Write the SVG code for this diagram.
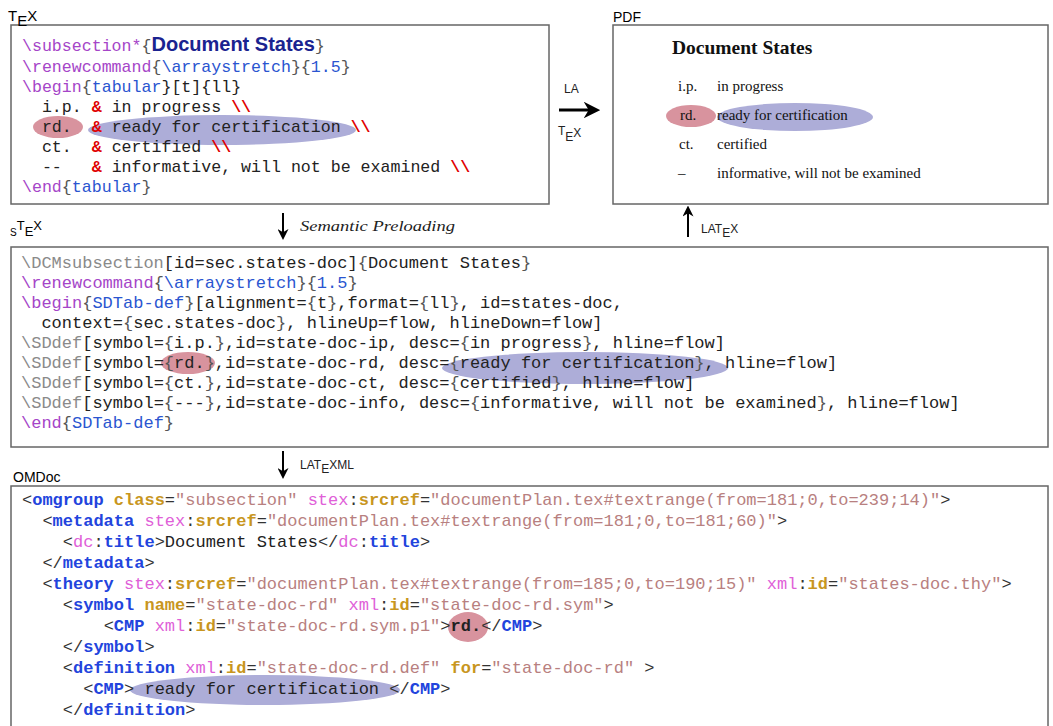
<svg xmlns="http://www.w3.org/2000/svg" width="1053" height="726" viewBox="0 0 1053 726">
<style>
.box{fill:#fff;stroke:#666;stroke-width:1.5}
.lbl{font-family:"Liberation Sans",Arial,sans-serif;fill:#000}
.hand{font-family:"Liberation Sans",Arial,sans-serif;fill:#222;font-size:12px}
.code{font-family:"Liberation Mono","Courier New",monospace;fill:#222}
.code text{white-space:pre}
.tex{font-size:16.6px}
.stx{font-size:17px}
.om{font-size:17px}
.pu{fill:#a545c8}
.bl{fill:#2a55d0}
.br{fill:#555}
.gr{fill:#8a8a8a}
.rd{fill:#e00000;font-weight:bold}
.tg{fill:#2244dd;font-weight:bold}
.at{fill:#c8961e;font-weight:bold}
.ns{fill:#e060d8}
.vl{fill:#b88080}
.pn{fill:#333}
.ered{fill:#d8939e}
.eblu{fill:#adadd8}
.pdf{font-family:"Liberation Serif","Times New Roman",serif;fill:#111;font-size:15px}
.pdfh{font-family:"Liberation Serif","Times New Roman",serif;fill:#111;font-size:19.5px;font-weight:bold}
.conn{stroke:#000;fill:none}
</style>
<defs>
<marker id="ah" viewBox="0 0 10 10" refX="5" refY="5" markerWidth="5.5" markerHeight="5.5" orient="auto">
<path d="M0,0 L10,5 L0,10 L3,5 z" fill="#000"/>
</marker>
</defs>

<g id="tex-node">
<rect class="box" x="11" y="25" width="538" height="179"/>
<text class="lbl" x="8" y="21" font-size="15">T<tspan dy="5">E</tspan><tspan dy="-5">X</tspan></text>
<ellipse class="ered" cx="58" cy="127" rx="25" ry="11"/>
<ellipse class="eblu" cx="222" cy="130" rx="134" ry="15"/>
<g class="code tex">
<text xml:space="preserve" x="22" y="51"><tspan class="pu">\subsection*</tspan><tspan class="br">{</tspan><tspan style="font-family:'Liberation Sans',Arial,sans-serif;font-weight:bold;font-size:20px;fill:#1a2390">Document States</tspan><tspan class="br">}</tspan></text>
<text xml:space="preserve" x="22" y="72"><tspan class="pu">\renewcommand</tspan><tspan class="br">{</tspan><tspan class="bl">\arraystretch</tspan><tspan class="br">}{</tspan><tspan class="bl">1.5</tspan><tspan class="br">}</tspan></text>
<text xml:space="preserve" x="22" y="92"><tspan class="pu">\begin</tspan><tspan class="br">{</tspan><tspan class="bl">tabular</tspan>}[t]{ll}</text>
<text xml:space="preserve" x="22" y="112">  i.p. <tspan class="rd">&amp;</tspan> in progress <tspan class="rd">\\</tspan></text>
<text xml:space="preserve" x="22" y="132">  rd.  <tspan class="rd">&amp;</tspan> ready for certification <tspan class="rd">\\</tspan></text>
<text xml:space="preserve" x="22" y="152">  ct.  <tspan class="rd">&amp;</tspan> certified <tspan class="rd">\\</tspan></text>
<text xml:space="preserve" x="22" y="172">  --   <tspan class="rd">&amp;</tspan> informative, will not be examined <tspan class="rd">\\</tspan></text>
<text xml:space="preserve" x="22" y="192"><tspan class="pu">\end</tspan><tspan class="br">{</tspan><tspan class="bl">tabular</tspan><tspan class="br">}</tspan></text>
</g>
</g>

<g id="pdf-node">
<rect class="box" x="613" y="25" width="435" height="179"/>
<text class="lbl" x="613" y="22" font-size="14">PDF</text>
<ellipse class="ered" cx="691" cy="116" rx="25" ry="11"/>
<ellipse class="eblu" cx="795" cy="117" rx="78" ry="14"/>
<text class="pdfh" x="672" y="54">Document States</text>
<text class="pdf" x="678" y="91">i.p.</text><text class="pdf" x="717" y="91">in progress</text>
<text class="pdf" x="680" y="120">rd.</text><text class="pdf" x="717" y="120">ready for certification</text>
<text class="pdf" x="679" y="149">ct.</text><text class="pdf" x="717" y="149">certified</text>
<text class="pdf" x="678" y="178">–</text><text class="pdf" x="717" y="178">informative, will not be examined</text>
</g>

<g id="stex-node">
<rect class="box" x="11" y="247" width="1037" height="200"/>
<text class="lbl" x="10" y="236" font-size="10">S<tspan font-size="13" dy="-6">T</tspan><tspan font-size="13" dy="6">E</tspan><tspan font-size="13" dy="-6">X</tspan></text>
<ellipse class="ered" cx="188" cy="363" rx="27" ry="11"/>
<ellipse class="eblu" cx="585" cy="368" rx="143" ry="16"/>
<g class="code stx">
<text xml:space="preserve" x="21" y="268"><tspan class="gr">\DCMsubsection</tspan>[id=sec.states-doc]<tspan class="br">{</tspan>Document States<tspan class="br">}</tspan></text>
<text xml:space="preserve" x="21" y="288"><tspan class="pu">\renewcommand</tspan><tspan class="br">{</tspan><tspan class="bl">\arraystretch</tspan><tspan class="br">}{</tspan><tspan class="bl">1.5</tspan><tspan class="br">}</tspan></text>
<text xml:space="preserve" x="21" y="308"><tspan class="pu">\begin</tspan><tspan class="br">{</tspan><tspan class="bl">SDTab-def</tspan><tspan class="br">}</tspan>[alignment=<tspan class="br">{</tspan>t<tspan class="br">}</tspan>,format=<tspan class="br">{</tspan>ll<tspan class="br">}</tspan>, id=states-doc,</text>
<text xml:space="preserve" x="21" y="328">  context=<tspan class="br">{</tspan>sec.states-doc<tspan class="br">}</tspan>, hlineUp=flow, hlineDown=flow]</text>
<text xml:space="preserve" x="21" y="348"><tspan class="gr">\SDdef</tspan>[symbol=<tspan class="br">{</tspan>i.p.<tspan class="br">}</tspan>,id=state-doc-ip, desc=<tspan class="br">{</tspan>in progress<tspan class="br">}</tspan>, hline=flow]</text>
<text xml:space="preserve" x="21" y="368"><tspan class="gr">\SDdef</tspan>[symbol=<tspan class="br">{</tspan>rd.<tspan class="br">}</tspan>,id=state-doc-rd, desc=<tspan class="br">{</tspan>ready for certification<tspan class="br">}</tspan>, hline=flow]</text>
<text xml:space="preserve" x="21" y="388"><tspan class="gr">\SDdef</tspan>[symbol=<tspan class="br">{</tspan>ct.<tspan class="br">}</tspan>,id=state-doc-ct, desc=<tspan class="br">{</tspan>certified<tspan class="br">}</tspan>, hline=flow]</text>
<text xml:space="preserve" x="21" y="408"><tspan class="gr">\SDdef</tspan>[symbol=<tspan class="br">{</tspan>---<tspan class="br">}</tspan>,id=state-doc-info, desc=<tspan class="br">{</tspan>informative, will not be examined<tspan class="br">}</tspan>, hline=flow]</text>
<text xml:space="preserve" x="21" y="428"><tspan class="pu">\end</tspan><tspan class="br">{</tspan><tspan class="bl">SDTab-def</tspan><tspan class="br">}</tspan></text>
</g>
</g>

<g id="omdoc-node">
<rect class="box" x="11" y="486" width="1037" height="260"/>
<text class="lbl" x="13" y="482" font-size="14">OMDoc</text>
<ellipse class="ered" cx="468" cy="627" rx="20" ry="15"/>
<ellipse class="eblu" cx="265" cy="690" rx="135" ry="15"/>
<g class="code om">
<text xml:space="preserve" x="22" y="505"><tspan class="pn">&lt;</tspan><tspan class="tg">omgroup</tspan> <tspan class="at">class</tspan><tspan class="pn">=</tspan><tspan class="vl">"subsection"</tspan> <tspan class="ns">stex</tspan><tspan class="pn">:</tspan><tspan class="at">srcref</tspan><tspan class="pn">=</tspan><tspan class="vl">"documentPlan.tex#textrange(from=181;0,to=239;14)"</tspan><tspan class="pn">&gt;</tspan></text>
<text xml:space="preserve" x="22" y="526">  <tspan class="pn">&lt;</tspan><tspan class="tg">metadata</tspan> <tspan class="ns">stex</tspan><tspan class="pn">:</tspan><tspan class="at">srcref</tspan><tspan class="pn">=</tspan><tspan class="vl">"documentPlan.tex#textrange(from=181;0,to=181;60)"</tspan><tspan class="pn">&gt;</tspan></text>
<text xml:space="preserve" x="22" y="547">    <tspan class="pn">&lt;</tspan><tspan class="ns">dc</tspan><tspan class="pn">:</tspan><tspan class="tg">title</tspan><tspan class="pn">&gt;</tspan>Document States<tspan class="pn">&lt;/</tspan><tspan class="ns">dc</tspan><tspan class="pn">:</tspan><tspan class="tg">title</tspan><tspan class="pn">&gt;</tspan></text>
<text xml:space="preserve" x="22" y="568">  <tspan class="pn">&lt;/</tspan><tspan class="tg">metadata</tspan><tspan class="pn">&gt;</tspan></text>
<text xml:space="preserve" x="22" y="589">  <tspan class="pn">&lt;</tspan><tspan class="tg">theory</tspan> <tspan class="ns">stex</tspan><tspan class="pn">:</tspan><tspan class="at">srcref</tspan><tspan class="pn">=</tspan><tspan class="vl">"documentPlan.tex#textrange(from=185;0,to=190;15)"</tspan> <tspan class="ns">xml</tspan><tspan class="pn">:</tspan><tspan class="at">id</tspan><tspan class="pn">=</tspan><tspan class="vl">"states-doc.thy"</tspan><tspan class="pn">&gt;</tspan></text>
<text xml:space="preserve" x="22" y="610">    <tspan class="pn">&lt;</tspan><tspan class="tg">symbol</tspan> <tspan class="at">name</tspan><tspan class="pn">=</tspan><tspan class="vl">"state-doc-rd"</tspan> <tspan class="ns">xml</tspan><tspan class="pn">:</tspan><tspan class="at">id</tspan><tspan class="pn">=</tspan><tspan class="vl">"state-doc-rd.sym"</tspan><tspan class="pn">&gt;</tspan></text>
<text xml:space="preserve" x="22" y="631">        <tspan class="pn">&lt;</tspan><tspan class="tg">CMP</tspan> <tspan class="ns">xml</tspan><tspan class="pn">:</tspan><tspan class="at">id</tspan><tspan class="pn">=</tspan><tspan class="vl">"state-doc-rd.sym.p1"</tspan><tspan class="pn">&gt;</tspan><tspan font-weight="bold">rd.</tspan><tspan class="pn">&lt;/</tspan><tspan class="tg">CMP</tspan><tspan class="pn">&gt;</tspan></text>
<text xml:space="preserve" x="22" y="652">    <tspan class="pn">&lt;/</tspan><tspan class="tg">symbol</tspan><tspan class="pn">&gt;</tspan></text>
<text xml:space="preserve" x="22" y="673">    <tspan class="pn">&lt;</tspan><tspan class="tg">definition</tspan> <tspan class="ns">xml</tspan><tspan class="pn">:</tspan><tspan class="at">id</tspan><tspan class="pn">=</tspan><tspan class="vl">"state-doc-rd.def"</tspan> <tspan class="at">for</tspan><tspan class="pn">=</tspan><tspan class="vl">"state-doc-rd"</tspan> <tspan class="pn">&gt;</tspan></text>
<text xml:space="preserve" x="22" y="694">      <tspan class="pn">&lt;</tspan><tspan class="tg">CMP</tspan><tspan class="pn">&gt;</tspan> ready for certification <tspan class="pn">&lt;/</tspan><tspan class="tg">CMP</tspan><tspan class="pn">&gt;</tspan></text>
<text xml:space="preserve" x="22" y="715">    <tspan class="pn">&lt;/</tspan><tspan class="tg">definition</tspan><tspan class="pn">&gt;</tspan></text>
</g>
</g>

<g id="connectors">
<line class="conn" x1="559" y1="110" x2="592" y2="110" stroke-width="3" marker-end="url(#ah)"/>
<text class="hand" x="564" y="93">LA</text>
<text class="hand" x="558" y="135">T<tspan dy="6">E</tspan><tspan dy="-4">X</tspan></text>
<line class="conn" x1="688" y1="237" x2="688" y2="211" stroke-width="2" marker-end="url(#ah)"/>
<text class="hand" x="701" y="233">LAT<tspan dy="4">E</tspan><tspan dy="-4">X</tspan></text>
<line class="conn" x1="283" y1="213" x2="283" y2="234.5" stroke-width="2" marker-end="url(#ah)"/>
<text x="300" y="231" font-family="Liberation Serif, serif" font-style="italic" font-size="15" fill="#222" textLength="155" lengthAdjust="spacingAndGlyphs">Semantic Preloading</text>
<line class="conn" x1="283" y1="451" x2="283" y2="473.5" stroke-width="2" marker-end="url(#ah)"/>
<text class="hand" x="300" y="469">LAT<tspan dy="4">E</tspan><tspan dy="-4">XML</tspan></text>
</g>
</svg>
